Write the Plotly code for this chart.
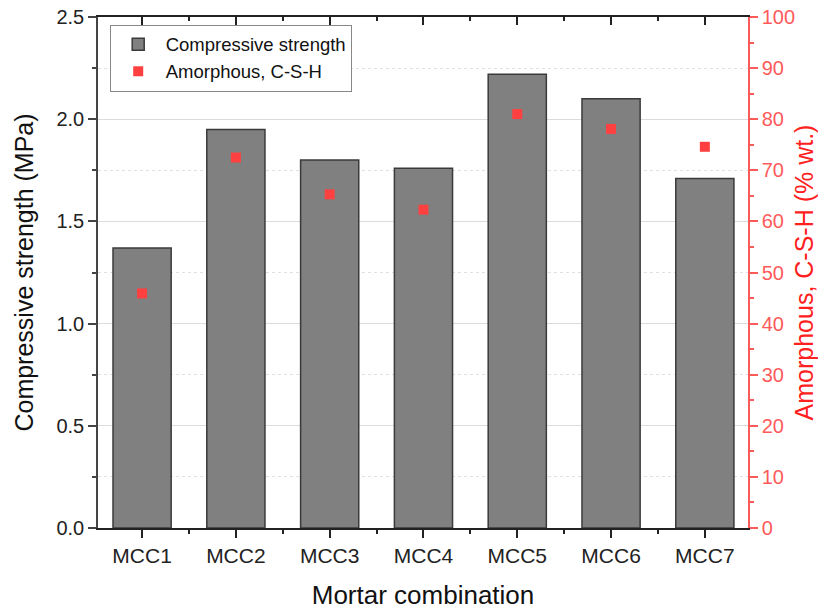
import plotly.graph_objects as go

categories = ["MCC1", "MCC2", "MCC3", "MCC4", "MCC5", "MCC6", "MCC7"]
strength = [1.37, 1.95, 1.80, 1.76, 2.22, 2.10, 1.71]
amorphous = [45.9, 72.5, 65.3, 62.3, 81.0, 78.1, 74.6]
xpos = list(range(len(categories)))

FONT = "Liberation Sans, Arial, sans-serif"
RED = "#ff2020"
RED_TICK = "#ff5a5a"

fig = go.Figure()
fig.add_trace(go.Bar(
    x=xpos, y=strength, name="Compressive strength", width=0.62,
    marker=dict(color="#808080", line=dict(color="#3a3a3a", width=1.5)),
))
fig.add_trace(go.Scatter(
    x=xpos, y=amorphous, name="Amorphous, C-S-H", mode="markers", yaxis="y2",
    marker=dict(symbol="square", size=10, color="#ff4040"),
))
# invisible trace to create the top mirror axis
fig.add_trace(go.Scatter(x=[], y=[], xaxis="x2", showlegend=False, hoverinfo="skip"))

xr = [-0.47, 6.46]
fig.update_layout(
    width=818, height=610,
    margin=dict(l=98, r=70, t=17, b=82, autoexpand=False),
    paper_bgcolor="white", plot_bgcolor="white",
    font=dict(family=FONT, color="#222"),
    xaxis=dict(
        range=xr, tickvals=xpos, ticktext=categories, automargin=False,
        ticks="outside", ticklen=8, tickwidth=1.5, tickcolor="#222",
        showline=True, linecolor="#222", linewidth=1.5,
        showgrid=False, zeroline=False,
        tickfont=dict(size=21, color="#222"),
        title=dict(text="Mortar combination", font=dict(size=26, color="#111"), standoff=20),
        minor=dict(tick0=0.5, dtick=1, ticks="outside", ticklen=4, tickcolor="#222", showgrid=False),
    ),
    xaxis2=dict(
        range=xr, overlaying="x", side="top", anchor="y", automargin=False,
        tickvals=xpos, showticklabels=False,
        ticks="inside", ticklen=8, tickwidth=1.5, tickcolor="#222",
        showline=True, linecolor="#222", linewidth=1.5, showgrid=False, zeroline=False,
        minor=dict(tick0=0.5, dtick=1, ticks="inside", ticklen=4, tickcolor="#222", showgrid=False),
    ),
    yaxis=dict(
        range=[0, 2.5], dtick=0.5, tickformat=".1f", automargin=False,
        ticks="outside", ticklen=8, tickwidth=1.5, tickcolor="#444",
        showline=True, linecolor="#444", linewidth=1.5,
        showgrid=True, gridcolor="#dcdcdc", gridwidth=1, zeroline=False,
        tickfont=dict(size=20, color="#222"),
        title=dict(text="Compressive strength (MPa)", font=dict(size=25, color="#111"), standoff=16),
        minor=dict(dtick=0.25, ticks="outside", ticklen=4, tickcolor="#444",
                   showgrid=True, gridcolor="#e0e0e0", griddash="dot", gridwidth=1),
    ),
    yaxis2=dict(
        range=[0, 100], dtick=10, overlaying="y", side="right", automargin=False,
        ticks="outside", ticklen=8, tickwidth=1.5, tickcolor=RED_TICK,
        showline=True, linecolor=RED_TICK, linewidth=1.5,
        showgrid=False, zeroline=False,
        tickfont=dict(size=20, color=RED_TICK),
        title=dict(text="Amorphous, C-S-H (% wt.)", font=dict(size=25, color=RED), standoff=10),
        minor=dict(dtick=5, ticks="outside", ticklen=4, tickcolor=RED_TICK, showgrid=False),
    ),
    legend=dict(
        x=0.018, y=0.985, xanchor="left", yanchor="top",
        bgcolor="white", bordercolor="#888", borderwidth=1,
        font=dict(size=18.5, color="#111"), tracegroupgap=0, itemwidth=45,
    ),
    showlegend=True,
)

fig.write_html("out.html")
